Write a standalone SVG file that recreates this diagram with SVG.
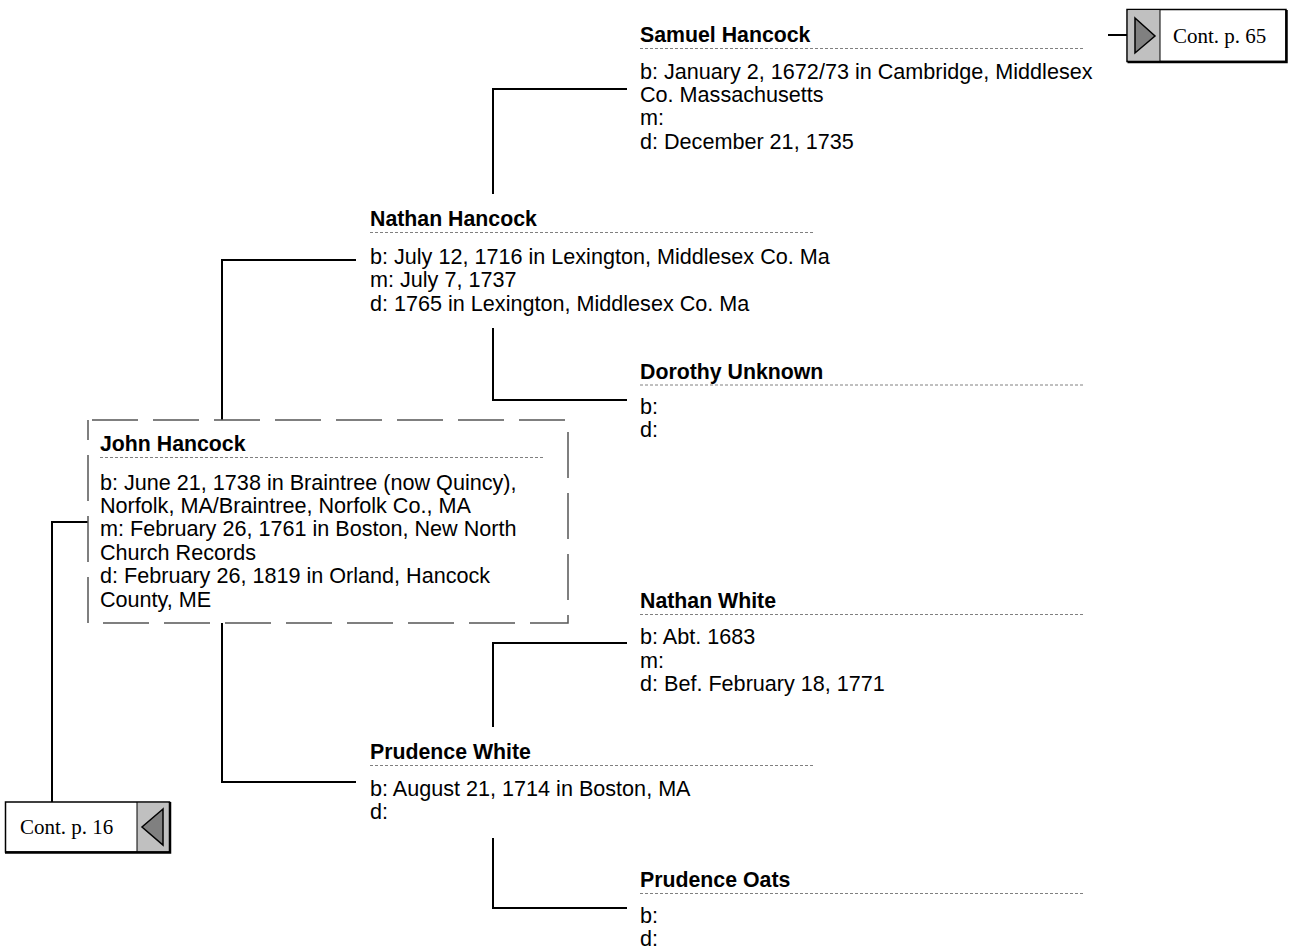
<svg xmlns="http://www.w3.org/2000/svg" width="1292" height="950" viewBox="0 0 1292 950">
<style>
.nm{font-family:"Liberation Sans",Arial,sans-serif;font-size:21.3px;font-weight:bold;fill:#000}
.dt{font-family:"Liberation Sans",Arial,sans-serif;font-size:21.6px;fill:#000}
.ct{font-family:"Liberation Serif","Times New Roman",serif;font-size:21px;fill:#000}
.sep{stroke:#808080;stroke-width:1;stroke-dasharray:3 2;fill:none}
.con{stroke:#000;stroke-width:2;fill:none}
.gray{fill:#c0c0c0}
.tri{fill:#808080;stroke:#000;stroke-width:1.5}
</style>
<rect width="1292" height="950" fill="#fff"/>
<g id="connectors">
<polyline class="con" points="493,194 493,89 627,89"/>
<polyline class="con" points="222,420 222,260 356,260"/>
<polyline class="con" points="493,328 493,400 627,400"/>
<polyline class="con" points="88,522 52,522 52,802"/>
<polyline class="con" points="222,623 222,782 356,782"/>
<polyline class="con" points="493,727 493,643 627,643"/>
<polyline class="con" points="493,838 493,908 627,908"/>
<line class="con" x1="1108" y1="35" x2="1127" y2="35"/>
</g>
<g id="samuel-hancock">
<text class="nm" x="640" y="42">Samuel Hancock</text>
<line class="sep" x1="640" y1="48.5" x2="1083" y2="48.5"/>
<text class="dt" x="640" y="78.5">b: January 2, 1672/73 in Cambridge, Middlesex</text>
<text class="dt" x="640" y="101.9">Co. Massachusetts</text>
<text class="dt" x="640" y="125.3">m:</text>
<text class="dt" x="640" y="148.7">d: December 21, 1735</text>
</g>
<g id="cont-65">
<rect x="1127" y="9.5" width="159" height="52" fill="#fff" stroke="#000" stroke-width="1.5"/>
<rect class="gray" x="1128" y="10.5" width="32" height="50"/>
<line x1="1160" y1="9.5" x2="1160" y2="61.5" stroke="#000" stroke-width="1"/>
<polyline points="1127.5,62 1286.5,62 1286.5,10" fill="none" stroke="#000" stroke-width="2.5"/>
<polygon class="tri" points="1135,18 1155,36 1135,53"/>
<text class="ct" x="1173" y="43">Cont. p. 65</text>
</g>
<g id="nathan-hancock">
<text class="nm" x="370" y="226">Nathan Hancock</text>
<line class="sep" x1="370" y1="232.5" x2="813" y2="232.5"/>
<text class="dt" x="370" y="263.5">b: July 12, 1716 in Lexington, Middlesex Co. Ma</text>
<text class="dt" x="370" y="287.1">m: July 7, 1737</text>
<text class="dt" x="370" y="310.7">d: 1765 in Lexington, Middlesex Co. Ma</text>
</g>
<g id="dorothy-unknown">
<text class="nm" x="640" y="378.5">Dorothy Unknown</text>
<line class="sep" x1="640" y1="385" x2="1083" y2="385"/>
<text class="dt" x="640" y="414">b:</text>
<text class="dt" x="640" y="437.4">d:</text>
</g>
<g id="john-hancock">
<rect x="88" y="420" width="480" height="203" fill="#fff" stroke="#555" stroke-width="1.5" stroke-dasharray="46 15" stroke-dashoffset="57"/>
<text class="nm" x="100" y="450.5">John Hancock</text>
<line class="sep" x1="100" y1="457.5" x2="543" y2="457.5"/>
<text class="dt" x="100" y="489.5">b: June 21, 1738 in Braintree (now Quincy),</text>
<text class="dt" x="100" y="512.9">Norfolk, MA/Braintree, Norfolk Co., MA</text>
<text class="dt" x="100" y="536.3">m: February 26, 1761 in Boston, New North</text>
<text class="dt" x="100" y="559.7">Church Records</text>
<text class="dt" x="100" y="583.1">d: February 26, 1819 in Orland, Hancock</text>
<text class="dt" x="100" y="606.5">County, ME</text>
</g>
<g id="nathan-white">
<text class="nm" x="640" y="608">Nathan White</text>
<line class="sep" x1="640" y1="614.5" x2="1083" y2="614.5"/>
<text class="dt" x="640" y="644">b: Abt. 1683</text>
<text class="dt" x="640" y="667.5">m:</text>
<text class="dt" x="640" y="691">d: Bef. February 18, 1771</text>
</g>
<g id="prudence-white">
<text class="nm" x="370" y="758.5">Prudence White</text>
<line class="sep" x1="370" y1="765.5" x2="813" y2="765.5"/>
<text class="dt" x="370" y="795.5">b: August 21, 1714 in Boston, MA</text>
<text class="dt" x="370" y="818.9">d:</text>
</g>
<g id="prudence-oats">
<text class="nm" x="640" y="887">Prudence Oats</text>
<line class="sep" x1="640" y1="893.5" x2="1083" y2="893.5"/>
<text class="dt" x="640" y="922.5">b:</text>
<text class="dt" x="640" y="945.9">d:</text>
</g>
<g id="cont-16">
<rect x="5.5" y="802" width="164" height="50" fill="#fff" stroke="#000" stroke-width="1.5"/>
<rect class="gray" x="137" y="803" width="32" height="48"/>
<line x1="137" y1="802" x2="137" y2="852" stroke="#000" stroke-width="1"/>
<polyline points="5,852.5 170,852.5 170,802" fill="none" stroke="#000" stroke-width="2.5"/>
<polygon class="tri" points="163,809 142,827 163,845"/>
<text class="ct" x="20" y="834">Cont. p. 16</text>
</g>
</svg>
